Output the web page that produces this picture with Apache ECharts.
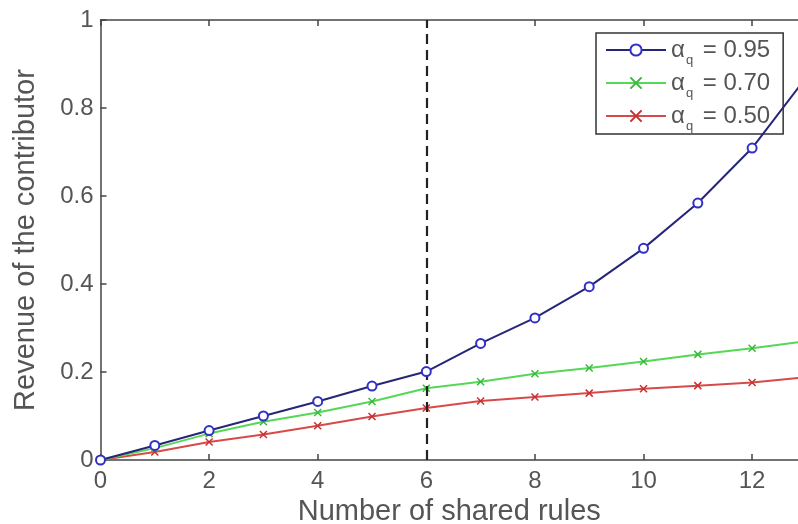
<!DOCTYPE html>
<html>
<head>
<meta charset="utf-8">
<script src="https://cdn.jsdelivr.net/npm/echarts@6/dist/echarts.min.js"></script>
<style>html,body{margin:0;padding:0;background:#fff;}#c{width:798px;height:524px;}</style>
</head>
<body>
<div id="c"></div>
<script>
const xValues = [0,1,2,3,4,5,6,7,8,9,10,11,12,13];
const seriesNames = ['0.95','0.70','0.50'];
const blueVals  = [0,0.033,0.067,0.100,0.133,0.168,0.201,0.265,0.323,0.394,0.481,0.584,0.709,0.870];
const greenVals = [0,0.027,0.060,0.087,0.108,0.133,0.163,0.178,0.196,0.209,0.224,0.240,0.254,0.270];
const redVals   = [0,0.018,0.041,0.058,0.078,0.099,0.118,0.134,0.143,0.152,0.162,0.169,0.176,0.188];
const xTickLabels = [0,2,4,6,8,10,12];
const thresholdX = 6;

const font = 'Liberation Sans, Arial, Helvetica, sans-serif';
const txt = '#555';
const xPath = 'path://M0,0 L10,10 M10,0 L0,10';
function pairs(v){ return xValues.map((x,i)=>[x,v[i]]); }

const chart = echarts.init(document.getElementById('c'));
chart.setOption({
  animation:false,
  backgroundColor:'#fff',
  grid:{left:100.5,right:0,top:20,bottom:64,containLabel:false,outerBoundsMode:'none'},
  xAxis:[{
    type:'value',min:0,max:12.845,
    name:'Number of shared rules',nameLocation:'middle',nameGap:30,
    nameTextStyle:{fontFamily:font,fontSize:29,color:txt},
    axisLine:{lineStyle:{color:'#444',width:1.5}},
    axisTick:{inside:true,length:6,customValues:xTickLabels,lineStyle:{color:'#444',width:1.5}},
    axisLabel:{customValues:xTickLabels,fontFamily:font,fontSize:24,color:txt,margin:9},
    splitLine:{show:false}
  },{
    type:'value',min:0,max:12.845,position:'top',
    axisLine:{show:true,lineStyle:{color:'#444',width:1.5}},
    axisTick:{inside:true,length:6,customValues:xTickLabels,lineStyle:{color:'#444',width:1.5}},
    axisLabel:{show:false},splitLine:{show:false}
  }],
  yAxis:{
    type:'value',min:0,max:1,interval:0.2,
    name:'Revenue of the contributor',nameLocation:'middle',nameGap:60,nameRotate:90,
    nameTextStyle:{fontFamily:font,fontSize:29,color:txt},
    axisLine:{show:true,lineStyle:{color:'#444',width:1.5}},
    axisTick:{show:true,inside:true,length:6,lineStyle:{color:'#444',width:1.5}},
    axisLabel:{fontFamily:font,fontSize:24,color:txt,margin:7},
    splitLine:{show:false}
  },
  legend:{
    orient:'vertical',left:596,top:33,
    padding:[5,13,1,9],itemGap:4,itemWidth:60,itemHeight:14,
    borderColor:'#333',borderWidth:1.5,backgroundColor:'#fff',
    data:seriesNames,
    formatter:function(n){return '{a|α}{s|q}{e| = '+n+'}';},
    textStyle:{fontFamily:font,fontSize:24,color:txt,
      rich:{a:{fontFamily:font,fontSize:24,lineHeight:34,color:txt,verticalAlign:'middle'},
            s:{fontFamily:font,fontSize:13,lineHeight:14,color:txt,verticalAlign:'bottom',padding:[0,3,0,1]},
            e:{fontFamily:font,fontSize:24,lineHeight:34,color:txt,verticalAlign:'middle'}}}
  },
  series:[{
    name:seriesNames[0],type:'line',data:pairs(blueVals),
    symbol:'emptyCircle',symbolSize:9,
    lineStyle:{color:'#262678',width:2},
    itemStyle:{color:'#3030c8',borderColor:'#3030c8',borderWidth:2},
    z:5,
    markLine:{silent:true,symbol:'none',label:{show:false},
      lineStyle:{color:'#222',type:[10,6],width:2.2},
      data:[{xAxis:thresholdX}]}
  },{
    name:seriesNames[1],type:'line',data:pairs(greenVals),
    symbol:xPath,symbolSize:7,
    lineStyle:{color:'#55d855',width:2},
    itemStyle:{color:'#55d855',borderColor:'#3cb83c',borderWidth:1.5},
    z:4
  },{
    name:seriesNames[2],type:'line',data:pairs(redVals),
    symbol:xPath,symbolSize:7,
    lineStyle:{color:'#d84a4a',width:2},
    itemStyle:{color:'#d84a4a',borderColor:'#c83030',borderWidth:1.5},
    z:3
  }]
});
</script>
</body>
</html>
